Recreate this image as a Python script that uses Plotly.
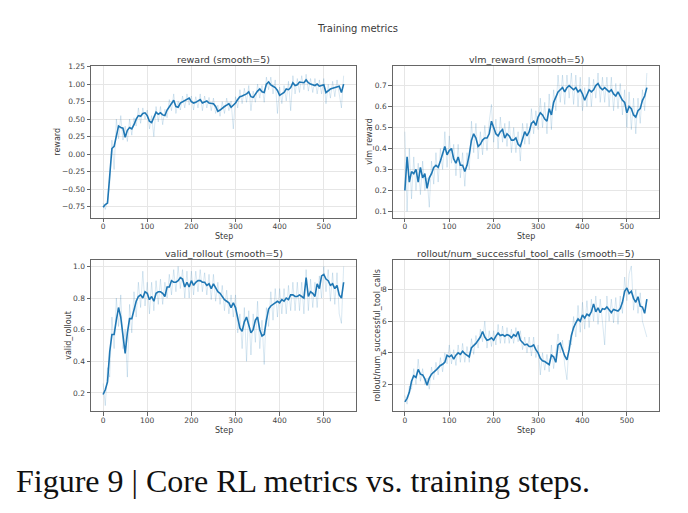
import plotly.graph_objects as go

W, H = 688, 513

steps = list(range(0, 550, 5))

reward_smooth = [
    -0.76, -0.72, -0.70, -0.28, 0.08, 0.11, 0.25, 0.40, 0.38, 0.37,
    0.24, 0.34, 0.38, 0.36, 0.42, 0.50, 0.55, 0.54, 0.58, 0.59,
    0.55, 0.47, 0.45, 0.52, 0.60, 0.57, 0.59, 0.56, 0.55, 0.63,
    0.68, 0.72, 0.77, 0.68, 0.67, 0.73, 0.75, 0.76, 0.78, 0.80,
    0.75, 0.73, 0.74, 0.76, 0.78, 0.73, 0.75, 0.76, 0.73, 0.72,
    0.72, 0.68, 0.61, 0.63, 0.66, 0.68, 0.70, 0.72, 0.67, 0.70,
    0.73, 0.78, 0.82, 0.83, 0.84, 0.86, 0.89, 0.82, 0.81, 0.86,
    0.90, 0.93, 0.89, 0.88, 1.00, 1.03, 0.99, 0.97, 0.95, 0.91,
    0.84, 0.86, 0.88, 0.93, 0.92, 0.95, 1.02, 0.98, 0.99, 1.03,
    1.03, 1.02, 1.06, 1.02, 1.00, 0.99, 0.98, 1.00, 0.97, 0.98,
    0.99, 0.88, 0.91, 0.93, 0.94, 0.95, 0.96, 0.97, 0.88, 1.00]
reward_raw = [
    -0.70, -0.79, -0.66, -0.42, 0.20, -0.22, 0.50, 0.22, 0.55, 0.20,
    0.40, 0.18, 0.50, 0.27, 0.52, 0.40, 0.66, 0.44, 0.66, 0.50,
    0.63, 0.36, 0.55, 0.25, 0.68, 0.46, 0.68, 0.42, 0.64, 0.52,
    0.78, 0.62, 0.86, 0.58, 0.76, 0.63, 0.83, 0.66, 0.86, 0.70,
    0.83, 0.63, 0.82, 0.66, 0.86, 0.62, 0.83, 0.66, 0.81, 0.62,
    0.80, 0.58, 0.70, 0.54, 0.75, 0.58, 0.80, 0.62, 0.76, 0.36,
    0.82, 0.66, 0.92, 0.72, 0.94, 0.74, 0.98, 0.62, 0.90, 0.74,
    1.00, 0.80, 0.98, 0.74, 1.10, 0.92, 1.10, 0.86, 1.06, 0.58,
    0.96, 0.72, 0.98, 0.76, 1.04, 0.62, 1.12, 0.86, 1.08, 0.88,
    1.12, 0.92, 1.14, 0.90, 1.08, 0.88, 1.08, 0.86, 1.06, 0.86,
    1.08, 0.72, 1.00, 0.80, 1.04, 0.82, 1.06, 0.84, 0.66, 1.12]

vlm_smooth = [
    0.20, 0.36, 0.24, 0.29, 0.28, 0.30, 0.24, 0.31, 0.26, 0.28,
    0.21, 0.26, 0.28, 0.31, 0.32, 0.31, 0.34, 0.38, 0.41, 0.37,
    0.39, 0.40, 0.35, 0.33, 0.36, 0.32, 0.32, 0.29, 0.32, 0.37,
    0.44, 0.47, 0.45, 0.41, 0.42, 0.44, 0.45, 0.45, 0.47, 0.53,
    0.50, 0.47, 0.46, 0.48, 0.49, 0.45, 0.47, 0.46, 0.44, 0.44,
    0.45, 0.42, 0.41, 0.45, 0.48, 0.46, 0.48, 0.52, 0.53, 0.51,
    0.55, 0.57, 0.56, 0.54, 0.53, 0.59, 0.56, 0.62, 0.65, 0.67,
    0.68, 0.69, 0.67, 0.69, 0.70, 0.69, 0.68, 0.69, 0.67, 0.68,
    0.66, 0.63, 0.66, 0.68, 0.67, 0.68, 0.70, 0.71, 0.69, 0.68,
    0.69, 0.68, 0.67, 0.68, 0.66, 0.65, 0.67, 0.65, 0.63, 0.62,
    0.57, 0.60, 0.59, 0.56, 0.55, 0.58, 0.59, 0.63, 0.65, 0.69]
vlm_raw = [
    0.48, 0.10, 0.40, 0.16, 0.36, 0.20, 0.33, 0.18, 0.34, 0.20,
    0.26, 0.12, 0.34, 0.23, 0.38, 0.24, 0.40, 0.30, 0.48, 0.31,
    0.46, 0.33, 0.42, 0.27, 0.42, 0.26, 0.38, 0.22, 0.38, 0.30,
    0.53, 0.38, 0.52, 0.35, 0.48, 0.37, 0.51, 0.39, 0.53, 0.61,
    0.43, 0.54, 0.40, 0.55, 0.43, 0.52, 0.41, 0.53, 0.38, 0.50,
    0.38, 0.48, 0.34, 0.52, 0.42, 0.52, 0.42, 0.59, 0.47, 0.58,
    0.49, 0.64, 0.50, 0.62, 0.47, 0.66, 0.49, 0.68, 0.58, 0.75,
    0.62, 0.75, 0.61, 0.75, 0.64, 0.76, 0.61, 0.75, 0.60, 0.74,
    0.58, 0.69, 0.60, 0.74, 0.60, 0.73, 0.64, 0.76, 0.62, 0.74,
    0.62, 0.74, 0.60, 0.74, 0.58, 0.71, 0.59, 0.71, 0.56, 0.68,
    0.50, 0.67, 0.49, 0.64, 0.47, 0.64, 0.52, 0.68, 0.58, 0.76]

valid_smooth = [
    0.19, 0.22, 0.27, 0.46, 0.57, 0.57, 0.66, 0.74, 0.68, 0.58,
    0.45, 0.58, 0.67, 0.67, 0.73, 0.78, 0.81, 0.82, 0.80, 0.84,
    0.83, 0.79, 0.81, 0.78, 0.83, 0.84, 0.84, 0.83, 0.81, 0.87,
    0.87, 0.91, 0.90, 0.90, 0.91, 0.93, 0.92, 0.87, 0.90, 0.87,
    0.91, 0.88, 0.90, 0.91, 0.91, 0.90, 0.90, 0.88, 0.89, 0.86,
    0.89, 0.86, 0.84, 0.83, 0.81, 0.79, 0.78, 0.77, 0.74, 0.77,
    0.74, 0.67, 0.61, 0.59, 0.65, 0.68, 0.62, 0.58, 0.60, 0.66,
    0.68, 0.60, 0.56, 0.57, 0.66, 0.73, 0.75, 0.76, 0.77, 0.78,
    0.77, 0.79, 0.78, 0.80, 0.79, 0.82, 0.82, 0.81, 0.81, 0.82,
    0.81, 0.80, 0.93, 0.81, 0.84, 0.83, 0.81, 0.89, 0.86, 0.94,
    0.95, 0.92, 0.91, 0.88, 0.89, 0.86, 0.88, 0.82, 0.80, 0.90]
valid_raw = [
    0.26, 0.12, 0.36, 0.30, 0.68, 0.48, 0.80, 0.62, 0.82, 0.48,
    0.60, 0.30, 0.76, 0.58, 0.84, 0.68, 0.90, 0.74, 0.97, 0.75,
    0.90, 0.70, 0.90, 0.72, 0.91, 0.76, 0.92, 0.76, 0.90, 0.80,
    0.95, 0.82, 0.98, 0.84, 1.00, 0.86, 0.98, 0.80, 0.97, 0.80,
    0.97, 0.82, 0.97, 0.84, 0.98, 0.84, 0.96, 0.82, 0.95, 0.79,
    0.95, 0.78, 0.90, 0.76, 0.88, 0.72, 0.85, 0.70, 0.82, 0.68,
    0.82, 0.58, 0.70, 0.48, 0.74, 0.40, 0.72, 0.44, 0.70, 0.52,
    0.78, 0.48, 0.66, 0.38, 0.74, 0.62, 0.84, 0.66, 0.86, 0.68,
    0.86, 0.70, 0.86, 0.70, 0.88, 0.72, 0.90, 0.72, 0.90, 0.72,
    0.90, 0.70, 0.98, 0.72, 0.92, 0.74, 0.90, 0.74, 0.94, 0.80,
    1.00, 0.84, 0.98, 0.78, 0.96, 0.76, 0.96, 0.70, 0.64, 1.00]

tool_smooth = [
    0.90, 1.12, 1.50, 2.20, 2.55, 2.45, 2.95, 2.65, 2.60, 2.35,
    1.95, 2.40, 2.65, 2.75, 2.90, 3.05, 3.20, 3.28, 3.40, 3.85,
    3.75, 3.85, 3.60, 3.85, 4.00, 3.90, 4.10, 3.95, 3.85, 3.75,
    4.33, 4.45, 4.60, 4.80, 5.00, 5.35, 5.00, 4.80, 4.85, 4.95,
    4.80, 5.06, 5.25, 5.10, 5.15, 5.05, 5.15, 5.10, 4.95, 5.15,
    5.05, 5.35, 4.80, 4.65, 4.50, 4.55, 4.40, 4.40, 4.50, 4.20,
    4.00, 3.65, 3.50, 3.45, 3.35, 3.25, 3.85, 3.75, 3.40, 4.50,
    4.60, 4.20, 3.80, 3.55, 4.20, 5.10, 5.60, 5.90, 6.15, 6.00,
    6.40, 6.20, 6.45, 6.35, 6.60, 7.10, 6.60, 6.85, 6.55, 6.80,
    6.75, 6.90, 6.70, 6.55, 6.75, 6.70, 6.65, 6.80, 7.20, 7.90,
    8.10, 7.75, 7.90, 7.45, 7.20, 7.55, 6.95, 6.90, 6.50, 7.40]
tool_raw = [
    1.30, 0.75, 1.90, 1.70, 3.00, 2.00, 3.60, 2.20, 3.00, 2.00,
    2.40, 1.70, 3.10, 2.30, 3.40, 2.60, 3.70, 2.80, 4.00, 3.30,
    4.50, 3.30, 4.20, 3.20, 4.50, 3.40, 4.60, 3.40, 4.40, 3.40,
    4.90, 3.90, 5.10, 4.30, 5.50, 4.70, 6.00, 4.30, 5.40, 4.40,
    5.40, 4.50, 5.80, 4.60, 5.70, 4.60, 5.60, 4.60, 5.50, 4.60,
    5.60, 4.70, 5.40, 4.20, 5.00, 4.00, 5.00, 3.80, 5.00, 3.70,
    4.50, 2.60, 4.00, 2.90, 3.90, 2.80, 4.50, 3.00, 4.00, 5.20,
    4.00, 4.80, 3.20, 2.30, 4.80, 4.50, 6.30, 5.00, 7.00, 5.30,
    7.20, 5.50, 7.30, 5.60, 7.40, 6.00, 7.60, 5.80, 7.40, 5.80,
    4.50, 7.60, 6.00, 7.40, 5.90, 7.50, 5.80, 7.60, 6.50, 8.80,
    7.30, 9.00, 9.50, 6.70, 8.00, 6.50, 7.80, 6.00, 5.40, 5.00]

panels = [
    dict(title="reward (smooth=5)", ylabel="reward", smooth=reward_smooth, raw=reward_raw,
         yrange=[-0.909, 1.264], dtick=0.25, fmt=".2f"),
    dict(title="vlm_reward (smooth=5)", ylabel="vlm_reward", smooth=vlm_smooth, raw=vlm_raw,
         yrange=[0.07, 0.795], dtick=0.1, fmt=".1f"),
    dict(title="valid_rollout (smooth=5)", ylabel="valid_rollout", smooth=valid_smooth, raw=valid_raw,
         yrange=[0.084, 1.042], dtick=0.2, fmt=".1f"),
    dict(title="rollout/num_successful_tool_calls (smooth=5)", ylabel="rollout/num_successful_tool_calls",
         smooth=tool_smooth, raw=tool_raw, yrange=[0.30, 9.89], dtick=2, fmt="d"),
]

# pixel boxes (left, right, top, bottom)
boxes = [(91, 356, 63, 216), (392.7, 659.3, 63, 216),
         (91, 356, 258.3, 410.7), (392.7, 659.3, 258.3, 410.7)]
ylabel_x = [58, 370, 68.3, 377.3]

C0 = "#1f77b4"
TXT = "#3a3a3a"
FONT = "DejaVu Sans"

fig = go.Figure()
layout = dict(width=W, height=H, margin=dict(l=0, r=0, t=0, b=0),
              paper_bgcolor="white", plot_bgcolor="white", showlegend=False,
              font=dict(family=FONT, color=TXT, size=8))
annotations = []

for i, (p, b) in enumerate(zip(panels, boxes)):
    n = "" if i == 0 else str(i + 1)
    xa, ya = "x" + n, "y" + n
    fig.add_trace(go.Scatter(x=steps, y=p["raw"], mode="lines", xaxis=xa, yaxis=ya,
                             line=dict(color="rgba(31,119,180,0.17)", width=1), hoverinfo="skip"))
    fig.add_trace(go.Scatter(x=steps, y=p["smooth"], mode="lines", xaxis=xa, yaxis=ya,
                             line=dict(color=C0, width=1.6)))
    l, r, t, bt = b
    axcommon = dict(showline=True, mirror=True, linecolor="#666666", linewidth=1,
                    ticks="outside", ticklen=3.5, tickwidth=0.8, tickcolor="#666666",
                    showgrid=True, gridcolor="#e6e6e6", gridwidth=0.8, zeroline=False,
                    tickfont=dict(family=FONT, size=7.5, color="#444444"))
    layout["xaxis" + n] = dict(domain=[l / W, r / W], anchor=ya, range=[-27.4, 573],
                               tickvals=[0, 100, 200, 300, 400, 500], ticklabelstandoff=-2,
                               **axcommon)
    layout["yaxis" + n] = dict(domain=[1 - bt / H, 1 - t / H], anchor=xa, range=p["yrange"],
                               tick0=0, dtick=p["dtick"], tickformat=p["fmt"], **axcommon)
    cx = (l + r) / 2
    annotations.append(dict(text=p["title"], x=cx / W, y=1 - (t - 6.5) / H, xref="paper", yref="paper",
                            showarrow=False, xanchor="center", yanchor="middle",
                            font=dict(family=FONT, size=9.5, color=TXT)))
    annotations.append(dict(text="Step", x=cx / W, y=1 - (bt + 19) / H, xref="paper", yref="paper",
                            showarrow=False, xanchor="center", yanchor="middle",
                            font=dict(family=FONT, size=8, color=TXT)))
    annotations.append(dict(text=p["ylabel"], x=ylabel_x[i] / W, y=1 - ((t + bt) / 2) / H,
                            xref="paper", yref="paper", showarrow=False, textangle=-90,
                            xanchor="center", yanchor="middle",
                            font=dict(family=FONT, size=8, color=TXT)))

annotations.append(dict(text="Training metrics", x=357 / W, y=1 - 26 / H, xref="paper", yref="paper",
                        showarrow=False, xanchor="center", yanchor="middle",
                        font=dict(family=FONT, size=10, color=TXT)))
annotations.append(dict(text="Figure 9 | Core RL metrics vs. training steps.", x=14 / W, y=1 - 481 / H,
                        xref="paper", yref="paper", showarrow=False, xanchor="left", yanchor="middle",
                        font=dict(family="Liberation Serif", size=32, color="#111111")))
layout["annotations"] = annotations
fig.update_layout(**layout)
fig.write_html("out.html")
